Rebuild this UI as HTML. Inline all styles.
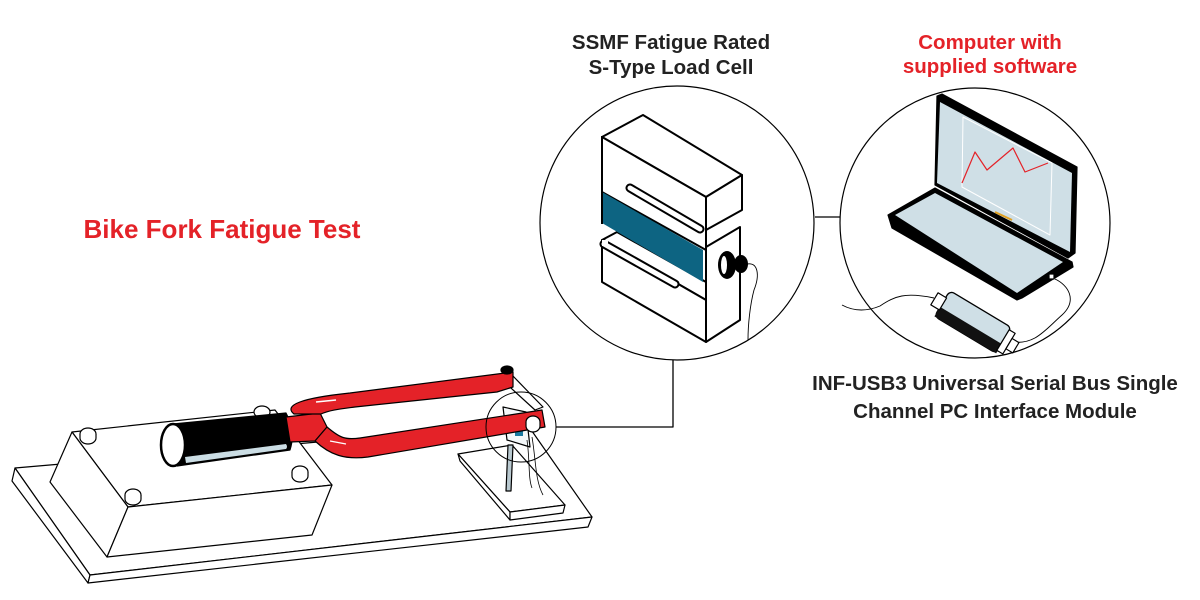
<!DOCTYPE html>
<html><head><meta charset="utf-8"><style>
html,body{margin:0;padding:0;background:#fff}
svg{display:block}
text{font-family:"Liberation Sans",sans-serif;font-weight:bold}
</style></head><body>
<svg width="1200" height="600" viewBox="0 0 1200 600" xmlns="http://www.w3.org/2000/svg">
<g stroke="#000" stroke-width="1.2" stroke-linejoin="round" fill="#fff">
<!-- base plate -->
<polygon points="15,468 527,424 592,517 90,575"/>
<polygon points="15,468 90,575 88,583 12,481"/>
<polygon points="90,575 592,517 588,527 88,583"/>
<!-- block -->
<polygon points="72,432 275,410 332,485 128,507"/>
<polygon points="72,432 128,507 107,557 50,482"/>
<polygon points="128,507 332,485 312,535 107,557"/>
<!-- bolts -->
<ellipse cx="88" cy="434" rx="8" ry="6"/><path d="M80,434 v4 a8,6 0 0 0 16,0 v-4" fill="#fff"/>
<ellipse cx="133" cy="495" rx="8" ry="6"/><path d="M125,495 v4 a8,6 0 0 0 16,0 v-4" fill="#fff"/>
<ellipse cx="300" cy="472" rx="8" ry="6"/><path d="M292,472 v4 a8,6 0 0 0 16,0 v-4" fill="#fff"/>
<ellipse cx="262" cy="412" rx="8" ry="6"/>
<!-- tip block -->
<polygon points="458,454 512,445 565,505 510,512"/>
<polygon points="458,454 510,512 510,520 460,461"/>
<polygon points="510,512 565,505 563,513 510,520"/>
<!-- bracket bar -->
<polygon points="500,378 512,375 543,407 535,410"/>
<!-- rod -->
<polygon points="508,445 513,445 511,491 506,491" fill="#b9c9d0"/>
<!-- device -->
<polygon points="503,407 526,412 530,447 507,440" fill="#f4f8fa"/>
<path d="M532,437 C536,460 535,480 543,495" fill="none" stroke-width="0.8"/>
<path d="M527,440 C530,460 528,478 532,488" fill="none" stroke-width="0.8"/>
<rect x="515" y="430" width="8" height="6" fill="#1a7aa0" stroke="none"/>
<!-- cylinder -->
<path d="M173,424 L286,413 Q296,431 290,450 L177,466 Z" fill="#000"/>
<path d="M185,457 L286,444 Q288,447 286,449 L186,463 Z" fill="#cbdde4" stroke="none"/>
<ellipse cx="173" cy="445" rx="12" ry="21" fill="#fff" stroke-width="2.5"/>
<!-- fork -->
<polygon points="286,417 320,413 327,427 315,441 290,442" fill="#e42228"/>
<path d="M513,372 L350,393 C302,398 283,405 294,414 L321,414 C330,410 340,409 355,407 L497,392 L513,387 Z" fill="#e42228"/>
<path d="M327,427 C340,438 345,440 360,438 L542,410 L545,427 L368,457 C345,460 330,455 315,441 Z" fill="#e42228"/>
<path d="M316,402 L336,400" stroke="#fff" stroke-width="1.5"/>
<path d="M330,441 L346,444" stroke="#fff" stroke-width="1.2"/>
<ellipse cx="533" cy="422" rx="7" ry="6"/><path d="M526,422 v4 a7,6 0 0 0 14,0 v-4"/>
<ellipse cx="507" cy="370" rx="6" ry="4" fill="#000"/>
<!-- small circle and connector -->
<circle cx="521" cy="427" r="35" fill="none" stroke-width="1"/>
<polyline points="556,427 673,427 673,360" fill="none" stroke-width="1.3"/>
<line x1="815" y1="217" x2="840" y2="217" stroke-width="1.3"/>
<!-- big circles -->
<circle cx="677" cy="223" r="137" stroke-width="1.2"/>
<circle cx="975" cy="223" r="135" stroke-width="1.2"/>
<!-- load cell -->
<g stroke-width="2">
<polygon points="643,115 742,175 706,197 602,137" />
<polygon points="706,197 742,175 742,210 706,230"/>
<polygon points="602,137 706,197 706,250 602,192"/>
<polygon points="602,240 617,232 706,282 706,300"/>
<polygon points="706,247 740,227 740,320 706,342"/>
<polygon points="602,240 706,300 706,342 602,282"/>
<polygon points="602,192 703,250 703,282 602,223" fill="#0d6482" stroke="none"/>
<line x1="602" y1="136" x2="602" y2="224"/>
<path d="M630,188 L700,229" stroke-width="9" stroke-linecap="round"/>
<path d="M630,188 L700,229" stroke="#fff" stroke-width="5" stroke-linecap="round"/>
<path d="M604,244 L675,284" stroke-width="9" stroke-linecap="round"/>
<path d="M604,244 L675,284" stroke="#fff" stroke-width="5" stroke-linecap="round"/>
<rect x="602" y="240" width="6" height="6" fill="#fff" stroke="none"/>
</g>
<ellipse cx="727" cy="265" rx="9" ry="14" fill="#000" stroke="none"/>
<ellipse cx="724" cy="265" rx="3" ry="9" fill="#fff" stroke="none"/>
<ellipse cx="741" cy="264" rx="7" ry="9" fill="#000" stroke="none"/>
<path d="M747,264 C758,262 760,275 754,290 C750,305 748,325 748,340" fill="none" stroke-width="0.9"/>
<!-- laptop -->
<polygon points="937,96 942,94 1077,167 1075,253 1068,258 935,185" fill="#000"/>
<polygon points="940,102 1072,173 1070,252 937,183" fill="#cfdfe6" stroke="none"/>
<polygon points="963,117 1052,163 1050,235 962,187" fill="none" stroke="#fff" stroke-width="1"/>
<polyline points="962,183 975,152 987,170 1013,148 1025,172 1048,163" fill="none" stroke="#e42228" stroke-width="1.2"/>
<polygon points="888,215 935,188 1072,262 1073,267 1022,298 1017,300 892,228" fill="#000"/>
<polygon points="895,215 935,193 1063,262 1017,293" fill="#cfdfe6" stroke="none"/>
<line x1="995" y1="212" x2="1012" y2="220" stroke="#e0a020" stroke-width="2"/>
<rect x="1049" y="274" width="5" height="5" fill="#fff"/>
<path d="M1055,279 C1068,285 1078,300 1062,315 C1045,330 1035,345 1012,342" fill="none" stroke-width="0.9"/>
<path d="M842,305 C855,312 868,311 880,306 C895,296 905,292 934,298" fill="none" stroke-width="0.9"/>
<g transform="translate(973,322) rotate(31)">
<rect x="-36" y="-15" width="72" height="30" rx="5" fill="#cfdfe6" stroke-width="1.3"/>
<rect x="-36" y="4" width="72" height="11" fill="#111" stroke="none"/>
<rect x="-45" y="-7" width="10" height="14" fill="#fff"/>
<rect x="35" y="-12" width="7" height="24" fill="#fff"/>
<rect x="42" y="-6" width="8" height="12" fill="#fff"/>
</g>
</g>
<!-- text -->
<text x="222" y="238" font-size="26" fill="#e42228" text-anchor="middle">Bike Fork Fatigue Test</text>
<text x="671" y="49" font-size="20.5" fill="#222" text-anchor="middle">SSMF Fatigue Rated</text>
<text x="671" y="74" font-size="20.5" fill="#222" text-anchor="middle">S-Type Load Cell</text>
<text x="990" y="49" font-size="20.5" fill="#e42228" text-anchor="middle">Computer with</text>
<text x="990" y="73" font-size="20.5" fill="#e42228" text-anchor="middle">supplied software</text>
<text x="995" y="390" font-size="20.5" fill="#222" text-anchor="middle">INF-USB3 Universal Serial Bus Single</text>
<text x="995" y="418" font-size="20.5" fill="#222" text-anchor="middle">Channel PC Interface Module</text>
</svg>
</body></html>
